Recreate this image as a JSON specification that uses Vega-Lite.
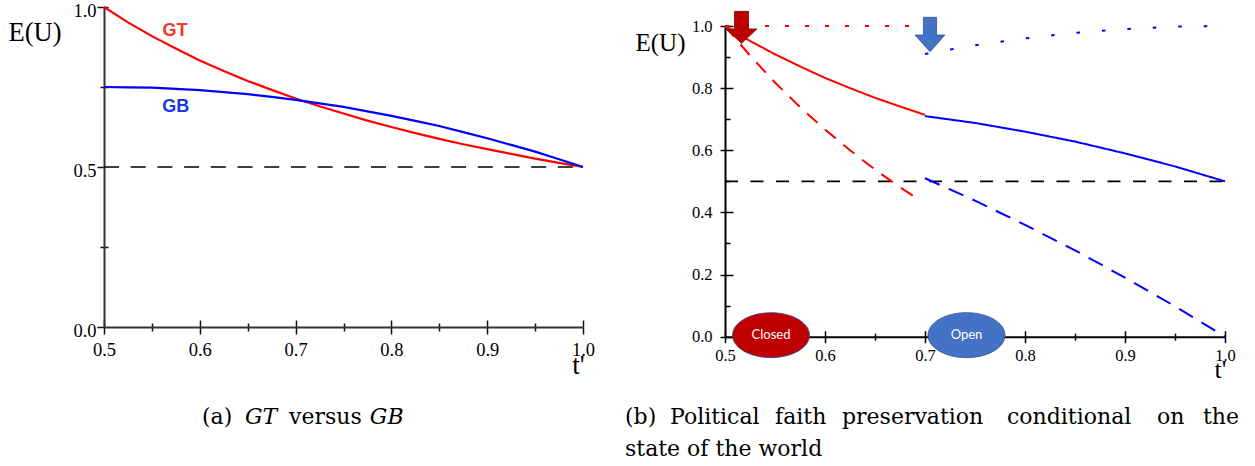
{
  "$schema": "https://vega.github.io/schema/vega-lite/v6.json",
  "autosize": {"type": "none"},
  "padding": {"left": 104, "top": 7, "right": 1151, "bottom": 459},
  "background": "white",
  "config": {"view": {"stroke": null}},
  "datasets": {
    "left": [
      {"series": "GT", "t": 0.5, "eu": 1.0}, {"series": "GT", "t": 0.525, "eu": 0.952}, {"series": "GT", "t": 0.55, "eu": 0.909},
      {"series": "GT", "t": 0.575, "eu": 0.870}, {"series": "GT", "t": 0.6, "eu": 0.833}, {"series": "GT", "t": 0.625, "eu": 0.8},
      {"series": "GT", "t": 0.65, "eu": 0.769}, {"series": "GT", "t": 0.675, "eu": 0.741}, {"series": "GT", "t": 0.7, "eu": 0.714},
      {"series": "GT", "t": 0.725, "eu": 0.690}, {"series": "GT", "t": 0.75, "eu": 0.667}, {"series": "GT", "t": 0.775, "eu": 0.645},
      {"series": "GT", "t": 0.8, "eu": 0.625}, {"series": "GT", "t": 0.825, "eu": 0.606}, {"series": "GT", "t": 0.85, "eu": 0.588},
      {"series": "GT", "t": 0.875, "eu": 0.571}, {"series": "GT", "t": 0.9, "eu": 0.556}, {"series": "GT", "t": 0.925, "eu": 0.541},
      {"series": "GT", "t": 0.95, "eu": 0.526}, {"series": "GT", "t": 0.975, "eu": 0.513}, {"series": "GT", "t": 1.0, "eu": 0.5},
      {"series": "GB", "t": 0.5, "eu": 0.75}, {"series": "GB", "t": 0.525, "eu": 0.749}, {"series": "GB", "t": 0.55, "eu": 0.748},
      {"series": "GB", "t": 0.575, "eu": 0.744}, {"series": "GB", "t": 0.6, "eu": 0.74}, {"series": "GB", "t": 0.625, "eu": 0.734},
      {"series": "GB", "t": 0.65, "eu": 0.728}, {"series": "GB", "t": 0.675, "eu": 0.719}, {"series": "GB", "t": 0.7, "eu": 0.71},
      {"series": "GB", "t": 0.725, "eu": 0.699}, {"series": "GB", "t": 0.75, "eu": 0.688}, {"series": "GB", "t": 0.775, "eu": 0.674},
      {"series": "GB", "t": 0.8, "eu": 0.66}, {"series": "GB", "t": 0.825, "eu": 0.644}, {"series": "GB", "t": 0.85, "eu": 0.628},
      {"series": "GB", "t": 0.875, "eu": 0.609}, {"series": "GB", "t": 0.9, "eu": 0.59}, {"series": "GB", "t": 0.925, "eu": 0.569},
      {"series": "GB", "t": 0.95, "eu": 0.548}, {"series": "GB", "t": 0.975, "eu": 0.524}, {"series": "GB", "t": 1.0, "eu": 0.5}
    ],
    "ref": [{"t": 0.5, "eu": 0.5}, {"t": 1.0, "eu": 0.5}],
    "curveLabels": [{"label": "GT", "t": 0.574, "eu": 0.925}, {"label": "GB", "t": 0.575, "eu": 0.6875}],
    "right": [
      {"series": "GT", "t": 0.5, "eu": 1.0}, {"series": "GT", "t": 0.525, "eu": 0.952}, {"series": "GT", "t": 0.55, "eu": 0.909},
      {"series": "GT", "t": 0.575, "eu": 0.870}, {"series": "GT", "t": 0.6, "eu": 0.833}, {"series": "GT", "t": 0.625, "eu": 0.8},
      {"series": "GT", "t": 0.65, "eu": 0.769}, {"series": "GT", "t": 0.675, "eu": 0.741}, {"series": "GT", "t": 0.7, "eu": 0.714},
      {"series": "GB", "t": 0.7, "eu": 0.71}, {"series": "GB", "t": 0.725, "eu": 0.699}, {"series": "GB", "t": 0.75, "eu": 0.688},
      {"series": "GB", "t": 0.775, "eu": 0.674}, {"series": "GB", "t": 0.8, "eu": 0.66}, {"series": "GB", "t": 0.825, "eu": 0.644},
      {"series": "GB", "t": 0.85, "eu": 0.628}, {"series": "GB", "t": 0.875, "eu": 0.609}, {"series": "GB", "t": 0.9, "eu": 0.59},
      {"series": "GB", "t": 0.925, "eu": 0.569}, {"series": "GB", "t": 0.95, "eu": 0.548}, {"series": "GB", "t": 0.975, "eu": 0.524},
      {"series": "GB", "t": 1.0, "eu": 0.5},
      {"series": "GT alt", "t": 0.5, "eu": 1.0}, {"series": "GT alt", "t": 0.525, "eu": 0.905}, {"series": "GT alt", "t": 0.55, "eu": 0.818},
      {"series": "GT alt", "t": 0.575, "eu": 0.739}, {"series": "GT alt", "t": 0.6, "eu": 0.667}, {"series": "GT alt", "t": 0.625, "eu": 0.6},
      {"series": "GT alt", "t": 0.65, "eu": 0.538}, {"series": "GT alt", "t": 0.675, "eu": 0.481}, {"series": "GT alt", "t": 0.695, "eu": 0.439},
      {"series": "GB alt", "t": 0.7, "eu": 0.51}, {"series": "GB alt", "t": 0.725, "eu": 0.474}, {"series": "GB alt", "t": 0.75, "eu": 0.438},
      {"series": "GB alt", "t": 0.775, "eu": 0.399}, {"series": "GB alt", "t": 0.8, "eu": 0.36}, {"series": "GB alt", "t": 0.825, "eu": 0.319},
      {"series": "GB alt", "t": 0.85, "eu": 0.278}, {"series": "GB alt", "t": 0.875, "eu": 0.234}, {"series": "GB alt", "t": 0.9, "eu": 0.19},
      {"series": "GB alt", "t": 0.925, "eu": 0.144}, {"series": "GB alt", "t": 0.95, "eu": 0.098}, {"series": "GB alt", "t": 0.975, "eu": 0.049},
      {"series": "GB alt", "t": 1.0, "eu": 0.0},
      {"series": "GT max", "t": 0.5, "eu": 1.0}, {"series": "GT max", "t": 0.7, "eu": 1.0},
      {"series": "GB max", "t": 0.7, "eu": 0.91}, {"series": "GB max", "t": 0.725, "eu": 0.924}, {"series": "GB max", "t": 0.75, "eu": 0.938},
      {"series": "GB max", "t": 0.775, "eu": 0.949}, {"series": "GB max", "t": 0.8, "eu": 0.96}, {"series": "GB max", "t": 0.825, "eu": 0.969},
      {"series": "GB max", "t": 0.85, "eu": 0.978}, {"series": "GB max", "t": 0.875, "eu": 0.984}, {"series": "GB max", "t": 0.9, "eu": 0.99},
      {"series": "GB max", "t": 0.925, "eu": 0.994}, {"series": "GB max", "t": 0.95, "eu": 0.998}, {"series": "GB max", "t": 0.975, "eu": 0.999},
      {"series": "GB max", "t": 1.0, "eu": 1.0}
    ],
    "states": [{"state": "Closed", "t": 0.546, "eu": 0.005}, {"state": "Open", "t": 0.7415, "eu": 0.005}]
  },
  "bounds": "flush",
  "spacing": 142,
  "hconcat": [
    {
      "width": 479,
      "height": 320,
      "resolve": {"axis": {"x": "independent", "y": "independent"}},
      "layer": [
        {
          "data": {"name": "ref"},
          "mark": {"type": "line", "color": "#000", "strokeWidth": 1.6, "strokeDash": [15, 11.7]},
          "encoding": {
            "x": {"field": "t", "type": "quantitative", "scale": {"domain": [0.5, 1], "nice": false, "zero": false},
              "axis": {"orient": "bottom", "values": [0.5, 0.55, 0.6, 0.65, 0.7, 0.75, 0.8, 0.85, 0.9, 0.95, 1.0], "labels": false, "domain": false, "grid": false, "title": null, "tickColor": "#111", "tickWidth": 1.5,
                "tickSize": {"condition": {"test": "abs(datum.value*10-round(datum.value*10))<0.01", "value": -7}, "value": -4}}},
            "y": {"field": "eu", "type": "quantitative", "scale": {"domain": [0, 1], "nice": false, "zero": false},
              "axis": {"orient": "left", "values": [0.25, 0.75, 1.0], "labels": false, "domain": false, "grid": false, "title": null, "tickColor": "#111", "tickWidth": 1.5, "tickSize": -4}}
          }
        },
        {
          "layer": [
            {
              "data": {"name": "left"},
              "mark": {"type": "line", "strokeWidth": 2.2},
              "encoding": {
                "x": {"field": "t", "type": "quantitative", "scale": {"domain": [0.5, 1], "nice": false, "zero": false},
                  "axis": {"orient": "bottom", "values": [0.5, 0.55, 0.6, 0.65, 0.7, 0.75, 0.8, 0.85, 0.9, 0.95, 1.0],
                    "labelExpr": "abs(datum.value*10-round(datum.value*10))<0.01 ? format(datum.value, '.1f') : ''",
                    "tickSize": {"condition": {"test": "abs(datum.value*10-round(datum.value*10))<0.01", "value": 7}, "value": 4},
                    "labelFont": "Liberation Serif", "labelFontSize": 18.5, "labelColor": "#000", "labelPadding": 6, "labelFlush": false, "labelOverlap": false, "labelBound": false,
                    "domainColor": "#333", "domainWidth": 2, "tickColor": "#111", "tickWidth": 1.5, "grid": false,
                    "title": "t'", "titleFont": "Liberation Serif", "titleFontSize": 27, "titleFontWeight": "normal", "titleColor": "#000",
                    "titleX": 474, "titleY": 46, "titleAlign": "center", "titleBaseline": "alphabetic", "titleAngle": 0}},
                "y": {"field": "eu", "type": "quantitative", "scale": {"domain": [0, 1], "nice": false, "zero": false},
                  "axis": {"orient": "left", "values": [0, 0.25, 0.5, 0.75, 1.0],
                    "labelExpr": "abs(datum.value*2-round(datum.value*2))<0.01 ? format(datum.value, '.1f') : ''",
                    "tickSize": {"condition": {"test": "abs(datum.value*2-round(datum.value*2))<0.01", "value": 7}, "value": 4},
                    "labelFont": "Liberation Serif", "labelFontSize": 18.5, "labelColor": "#000", "labelPadding": 1, "labelOffset": 3, "labelFlush": false, "labelOverlap": false, "labelBound": false,
                    "domainColor": "#333", "domainWidth": 2, "tickColor": "#111", "tickWidth": 1.5, "grid": false,
                    "title": "E(U)", "titleFont": "Liberation Serif", "titleFontSize": 26.5, "titleFontWeight": "normal", "titleColor": "#000",
                    "titleX": -96, "titleY": 33, "titleAlign": "left", "titleBaseline": "alphabetic", "titleAngle": 0}},
                "stroke": {"field": "series", "type": "nominal", "scale": {"domain": ["GT", "GB"], "range": ["#ff0000", "#0000ff"]}, "legend": null}
              }
            },
            {
              "data": {"name": "curveLabels"},
              "mark": {"type": "text", "font": "Liberation Sans", "fontSize": 18, "fontWeight": "bold", "align": "center", "baseline": "middle"},
              "encoding": {
                "x": {"field": "t", "type": "quantitative"},
                "y": {"field": "eu", "type": "quantitative"},
                "text": {"field": "label"},
                "color": {"field": "label", "type": "nominal", "scale": {"domain": ["GT", "GB"], "range": ["#ee3a2a", "#1438e6"]}, "legend": null}
              }
            },
            {
              "data": {"values": [{}]},
              "mark": {"type": "text", "text": "(a)", "font": "DejaVu Serif", "fontSize": 22, "align": "left", "baseline": "alphabetic", "color": "#000"},
              "encoding": {"x": {"datum": 0.6023, "type": "quantitative"}, "y": {"datum": -0.303, "type": "quantitative"}}
            },
            {
              "data": {"values": [{}]},
              "mark": {"type": "text", "text": "GT", "font": "DejaVu Serif", "fontStyle": "italic", "fontSize": 22, "align": "left", "baseline": "alphabetic", "color": "#000"},
              "encoding": {"x": {"datum": 0.6472, "type": "quantitative"}, "y": {"datum": -0.303, "type": "quantitative"}}
            },
            {
              "data": {"values": [{}]},
              "mark": {"type": "text", "text": "versus", "font": "DejaVu Serif", "fontSize": 22, "align": "left", "baseline": "alphabetic", "color": "#000"},
              "encoding": {"x": {"datum": 0.6932, "type": "quantitative"}, "y": {"datum": -0.303, "type": "quantitative"}}
            },
            {
              "data": {"values": [{}]},
              "mark": {"type": "text", "text": "GB", "font": "DejaVu Serif", "fontStyle": "italic", "fontSize": 22, "align": "left", "baseline": "alphabetic", "color": "#000"},
              "encoding": {"x": {"datum": 0.7775, "type": "quantitative"}, "y": {"datum": -0.303, "type": "quantitative"}}
            }
          ]
        }
      ]
    },
    {
      "bounds": "flush",
      "spacing": 0,
      "vconcat": [
        {"width": 500, "height": 19, "data": {"values": []}, "mark": {"type": "point", "opacity": 0}},
        {
          "width": 500,
          "height": 310.7,
          "resolve": {"axis": {"x": "independent", "y": "independent"}},
          "layer": [
            {
              "data": {"name": "ref"},
              "mark": {"type": "line", "color": "#000", "strokeWidth": 1.6, "strokeDash": [13, 12.5]},
              "encoding": {
                "x": {"field": "t", "type": "quantitative", "scale": {"domain": [0.5, 1], "nice": false, "zero": false},
                  "axis": {"orient": "bottom", "values": [0.5, 0.55, 0.6, 0.65, 0.7, 0.75, 0.8, 0.85, 0.9, 0.95, 1.0], "labels": false, "domain": false, "grid": false, "title": null, "tickColor": "#000", "tickWidth": 1.5,
                    "tickSize": {"condition": {"test": "abs(datum.value*10-round(datum.value*10))<0.01", "value": -6}, "value": -3.5}}},
                "y": {"field": "eu", "type": "quantitative", "scale": {"domain": [0, 1], "nice": false, "zero": false},
                  "axis": {"orient": "left", "values": [0, 0.1, 0.2, 0.3, 0.4, 0.5, 0.6, 0.7, 0.8, 0.9, 1.0], "labels": false, "domain": false, "grid": false, "title": null, "tickColor": "#000", "tickWidth": 1.5,
                    "tickSize": {"condition": {"test": "abs(datum.value*5-round(datum.value*5))<0.01", "value": -8}, "value": -5}}}
              }
            },
            {
              "layer": [
                {
                  "data": {"name": "right"},
                  "mark": {"type": "line", "strokeWidth": 2, "strokeCap": "butt"},
                  "encoding": {
                    "x": {"field": "t", "type": "quantitative", "scale": {"domain": [0.5, 1], "nice": false, "zero": false},
                      "axis": {"orient": "bottom", "values": [0.5, 0.55, 0.6, 0.65, 0.7, 0.75, 0.8, 0.85, 0.9, 0.95, 1.0],
                        "labelExpr": "abs(datum.value*10-round(datum.value*10))<0.01 ? format(datum.value, '.1f') : ''",
                        "tickSize": {"condition": {"test": "abs(datum.value*10-round(datum.value*10))<0.01", "value": 6}, "value": 3.5},
                        "labelFont": "Liberation Serif", "labelFontSize": 16.5, "labelColor": "#000", "labelPadding": 5, "labelFlush": false, "labelOverlap": false, "labelBound": false,
                        "domainColor": "#000", "domainWidth": 2, "tickColor": "#000", "tickWidth": 1.5, "grid": false,
                        "title": "t'", "titleFont": "Liberation Serif", "titleFontSize": 26, "titleFontWeight": "normal", "titleColor": "#000",
                        "titleX": 495, "titleY": 41, "titleAlign": "center", "titleBaseline": "alphabetic", "titleAngle": 0}},
                    "y": {"field": "eu", "type": "quantitative", "scale": {"domain": [0, 1], "nice": false, "zero": false},
                      "axis": {"orient": "left", "values": [0, 0.1, 0.2, 0.3, 0.4, 0.5, 0.6, 0.7, 0.8, 0.9, 1.0],
                        "labelExpr": "abs(datum.value*5-round(datum.value*5))<0.01 ? format(datum.value, '.1f') : ''",
                        "tickSize": {"condition": {"test": "abs(datum.value*5-round(datum.value*5))<0.01", "value": 5}, "value": 2.5},
                        "labelFont": "Liberation Serif", "labelFontSize": 16.5, "labelColor": "#000", "labelPadding": 8, "labelFlush": false, "labelOverlap": false, "labelBound": false,
                        "domainColor": "#000", "domainWidth": 2, "tickColor": "#000", "tickWidth": 1.5, "grid": false,
                        "title": "E(U)", "titleFont": "Liberation Serif", "titleFontSize": 25, "titleFontWeight": "normal", "titleColor": "#000",
                        "titleX": -90, "titleY": 24, "titleAlign": "left", "titleBaseline": "alphabetic", "titleAngle": 0}},
                    "stroke": {"field": "series", "type": "nominal", "scale": {"domain": ["GT", "GB", "GT alt", "GB alt", "GT max", "GB max"], "range": ["#ff0000", "#0000ff", "#ff0000", "#0000ff", "#ff0000", "#0000ff"]}, "legend": null},
                    "strokeDash": {"field": "series", "type": "nominal", "scale": {"domain": ["GT", "GB", "GT alt", "GB alt", "GT max", "GB max"], "range": [[1, 0], [1, 0], [14, 10], [16, 10], [4, 16], [3.5, 22]]}, "legend": null}
                  }
                },
                {
                  "data": {"values": [{"state": "Closed", "t": 0.5165, "eu": 0.9957}]},
                  "mark": {"type": "point", "filled": true, "opacity": 1, "size": 1024, "stroke": "#6b1010", "strokeWidth": 0.8,
                    "shape": "M -0.44 -1 L 0.44 -1 L 0.44 0.1 L 0.97 0.1 L 0 1 L -0.97 0.1 L -0.44 0.1 Z"},
                  "encoding": {
                    "x": {"field": "t", "type": "quantitative"},
                    "y": {"field": "eu", "type": "quantitative"},
                    "fill": {"field": "state", "type": "nominal", "scale": {"domain": ["Closed", "Open"], "range": ["#c00000", "#4472c4"]}, "legend": null}
                  }
                },
                {
                  "data": {"values": [{"state": "Open", "t": 0.705, "eu": 0.9726}]},
                  "mark": {"type": "point", "filled": true, "opacity": 1, "size": 1183, "stroke": "#2f528f", "strokeWidth": 0.8,
                    "shape": "M -0.38 -1 L 0.38 -1 L 0.38 0.03 L 0.87 0.03 L 0 1 L -0.87 0.03 L -0.38 0.03 Z"},
                  "encoding": {
                    "x": {"field": "t", "type": "quantitative"},
                    "y": {"field": "eu", "type": "quantitative"},
                    "fill": {"field": "state", "type": "nominal", "legend": null}
                  }
                },
                {
                  "data": {"name": "states"},
                  "mark": {"type": "point", "filled": true, "opacity": 1, "size": 5929, "stroke": "#2f528f", "strokeWidth": 0.8,
                    "shape": "M 1 0 C 1 0.3225 0.5523 0.584 0 0.584 C -0.5523 0.584 -1 0.3225 -1 0 C -1 -0.3225 -0.5523 -0.584 0 -0.584 C 0.5523 -0.584 1 -0.3225 1 0 Z"},
                  "encoding": {
                    "x": {"field": "t", "type": "quantitative"},
                    "y": {"field": "eu", "type": "quantitative"},
                    "fill": {"field": "state", "type": "nominal", "legend": null}
                  }
                },
                {
                  "data": {"name": "states"},
                  "mark": {"type": "text", "font": "Lato", "fontSize": 13, "color": "#ffffff", "align": "center", "baseline": "middle"},
                  "encoding": {
                    "x": {"field": "t", "type": "quantitative"},
                    "y": {"field": "eu", "type": "quantitative"},
                    "text": {"field": "state"}
                  }
                },
                {
                  "data": {"values": [{}]},
                  "mark": {"type": "text", "text": "(b)", "font": "DejaVu Serif", "fontSize": 22, "align": "left", "baseline": "alphabetic", "color": "#000"},
                  "encoding": {"x": {"datum": 0.4, "type": "quantitative"}, "y": {"datum": -0.281, "type": "quantitative"}}
                },
                {
                  "data": {"values": [{}]},
                  "mark": {"type": "text", "text": "Political", "font": "DejaVu Serif", "fontSize": 22, "align": "left", "baseline": "alphabetic", "color": "#000"},
                  "encoding": {"x": {"datum": 0.445, "type": "quantitative"}, "y": {"datum": -0.281, "type": "quantitative"}}
                },
                {
                  "data": {"values": [{}]},
                  "mark": {"type": "text", "text": "faith", "font": "DejaVu Serif", "fontSize": 22, "align": "left", "baseline": "alphabetic", "color": "#000"},
                  "encoding": {"x": {"datum": 0.55, "type": "quantitative"}, "y": {"datum": -0.281, "type": "quantitative"}}
                },
                {
                  "data": {"values": [{}]},
                  "mark": {"type": "text", "text": "preservation", "font": "DejaVu Serif", "fontSize": 22, "align": "left", "baseline": "alphabetic", "color": "#000"},
                  "encoding": {"x": {"datum": 0.617, "type": "quantitative"}, "y": {"datum": -0.281, "type": "quantitative"}}
                },
                {
                  "data": {"values": [{}]},
                  "mark": {"type": "text", "text": "conditional", "font": "DejaVu Serif", "fontSize": 22, "align": "left", "baseline": "alphabetic", "color": "#000"},
                  "encoding": {"x": {"datum": 0.782, "type": "quantitative"}, "y": {"datum": -0.281, "type": "quantitative"}}
                },
                {
                  "data": {"values": [{}]},
                  "mark": {"type": "text", "text": "on", "font": "DejaVu Serif", "fontSize": 22, "align": "left", "baseline": "alphabetic", "color": "#000"},
                  "encoding": {"x": {"datum": 0.932, "type": "quantitative"}, "y": {"datum": -0.281, "type": "quantitative"}}
                },
                {
                  "data": {"values": [{}]},
                  "mark": {"type": "text", "text": "the", "font": "DejaVu Serif", "fontSize": 22, "align": "left", "baseline": "alphabetic", "color": "#000"},
                  "encoding": {"x": {"datum": 0.978, "type": "quantitative"}, "y": {"datum": -0.281, "type": "quantitative"}}
                },
                {
                  "data": {"values": [{}]},
                  "mark": {"type": "text", "text": "state of the world", "font": "DejaVu Serif", "fontSize": 22, "align": "left", "baseline": "alphabetic", "color": "#000"},
                  "encoding": {"x": {"datum": 0.4, "type": "quantitative"}, "y": {"datum": -0.384, "type": "quantitative"}}
                }
              ]
            }
          ]
        }
      ]
    }
  ]
}
